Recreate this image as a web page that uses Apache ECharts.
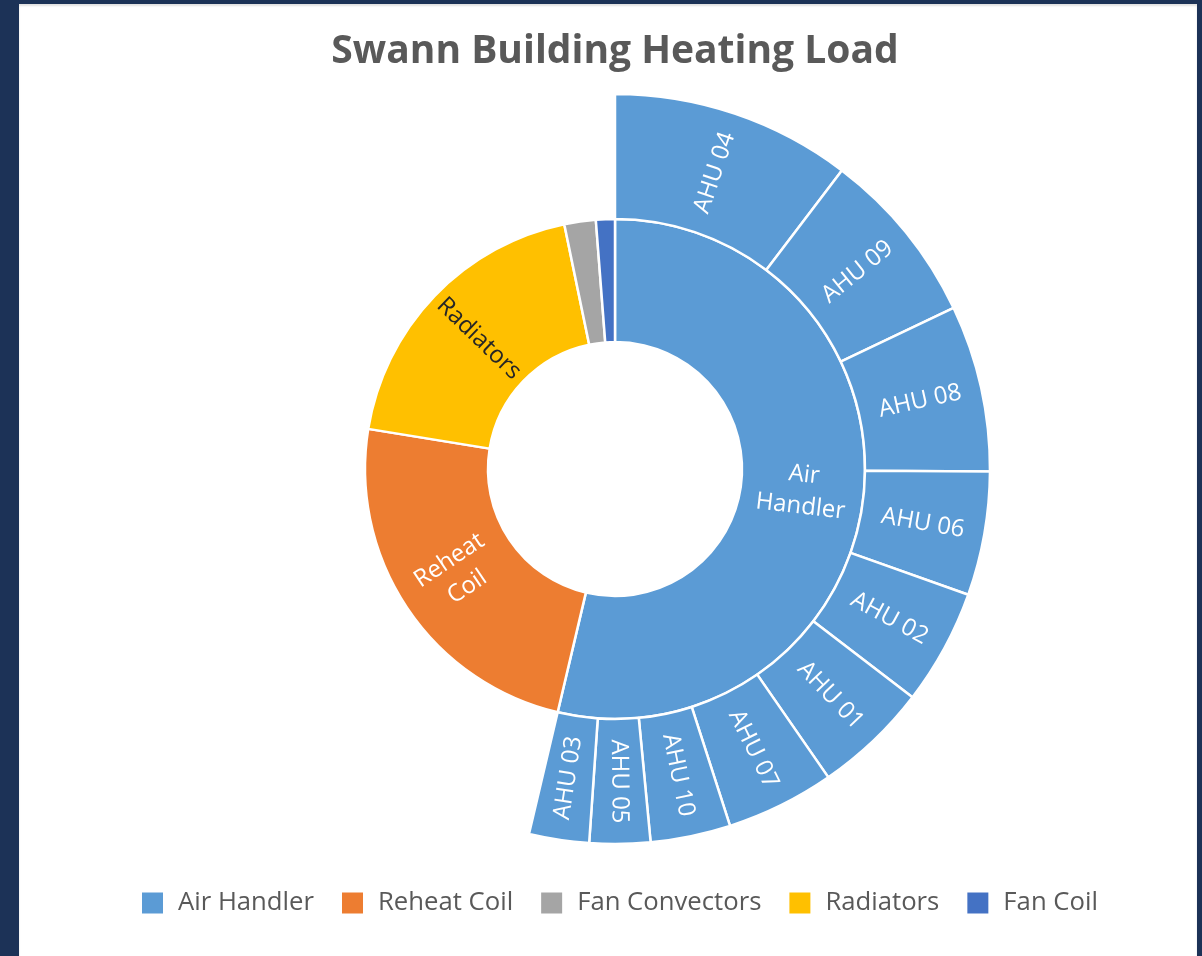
<!DOCTYPE html>
<html>
<head>
<meta charset="utf-8">
<script src="https://cdn.jsdelivr.net/npm/echarts@6/dist/echarts.min.js"></script>
<style>
  html, body { margin: 0; padding: 0; width: 1202px; height: 956px; background: #1c3257; overflow: hidden; }
  #panel { position: absolute; left: 19px; top: 4px; width: 1178px; height: 952px; background: #ffffff; box-shadow: inset 0 2px 2px rgba(0,0,0,0.12); }
  #chart { position: absolute; left: 0; top: 0; width: 1202px; height: 956px; }
</style>
</head>
<body>
<div id="panel"></div>
<div id="chart"></div>
<script>
// ---- data ----
const titleText = 'Swann Building Heating Load';
const categories = ['Air Handler', 'Reheat Coil', 'Fan Convectors', 'Radiators', 'Fan Coil'];
const categoryValues = [null, 859, 73, 690, 44]; // Air Handler = sum of its units
const categoryColors = ['#5B9BD5', '#ED7D31', '#A5A5A5', '#FFC000', '#4472C4'];
const ahuNames = ['AHU 04', 'AHU 09', 'AHU 08', 'AHU 06', 'AHU 02', 'AHU 01', 'AHU 07', 'AHU 10', 'AHU 05', 'AHU 03'];
const ahuValues = [372, 273, 258, 192, 179, 178, 168, 124, 94, 93];
const hiddenLabels = ['Fan Convectors', 'Fan Coil'];
const darkLabels = ['Radiators'];

const FONT = '"Open Sans", "Noto Sans", sans-serif';

const sunData = categories.map((name, i) => {
  const node = {
    name: name,
    itemStyle: { color: categoryColors[i] },
    label: {
      show: hiddenLabels.indexOf(name) < 0,
      color: darkLabels.indexOf(name) >= 0 ? '#262626' : '#ffffff'
    }
  };
  if (categoryValues[i] != null) node.value = categoryValues[i];
  if (name === 'Air Handler') {
    node.children = ahuNames.map((n, j) => ({
      name: n,
      value: ahuValues[j],
      itemStyle: { color: categoryColors[i] }
    }));
  }
  return node;
});

const chart = echarts.init(document.getElementById('chart'), null, { renderer: 'canvas' });
chart.setOption({
  animation: false,
  title: {
    text: titleText,
    left: 610,
    top: 27,
    textAlign: 'center',
    textStyle: { fontFamily: FONT, fontSize: 39, fontWeight: 'bold', color: '#595959' }
  },
  legend: {
    data: categories,
    left: 137,
    top: 885,
    icon: 'rect',
    itemWidth: 21,
    itemHeight: 21,
    itemGap: 28,
    selectedMode: false,
    textStyle: { fontFamily: FONT, fontSize: 25.7, color: '#595959', padding: [0, 0, 0, 10] }
  },
  series: [
    {
      type: 'sunburst',
      center: [615, 469],
      radius: [127, 375],
      sort: 'desc',
      startAngle: 90,
      clockwise: true,
      nodeClick: false,
      emphasis: { disabled: true },
      itemStyle: { borderColor: '#ffffff', borderWidth: 2.5 },
      label: {
        rotate: 'radial',
        color: '#ffffff',
        fontFamily: FONT,
        fontSize: 24,
        lineHeight: 32,
        formatter: function (p) {
          return p.treePathInfo && p.treePathInfo.length === 2 ? p.name.replace(' ', '\n') : p.name;
        }
      },
      levels: [
        {},
        { r0: 127, r: 250 },
        { r0: 250, r: 375 }
      ],
      data: sunData
    },
    {
      type: 'pie',
      radius: [0, 0],
      center: [615, 469],
      silent: true,
      label: { show: false },
      labelLine: { show: false },
      data: categories.map((n, i) => ({ name: n, value: 1, itemStyle: { color: categoryColors[i] } }))
    }
  ]
});
</script>
</body>
</html>
